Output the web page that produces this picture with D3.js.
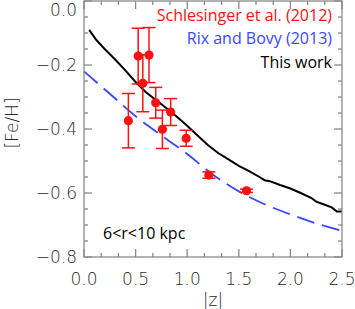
<!DOCTYPE html>
<html><head><meta charset="utf-8">
<script src="https://cdn.jsdelivr.net/npm/d3@7"></script>
<style>body{margin:0;background:#fff}svg{display:block}</style>
</head><body>
<script>
// "This work" model line
const workZ   = [0.05,0.12,0.2,0.3,0.4,0.5,0.6,0.7,0.8,0.9,1.0,1.1,1.2,1.3,1.4,1.5,1.6,1.7,1.75,1.8,1.9,2.0,2.1,2.2,2.25,2.3,2.4,2.45,2.5];
const workFeH = [-0.09,-0.122,-0.15,-0.182,-0.217,-0.253,-0.285,-0.31,-0.335,-0.362,-0.39,-0.42,-0.45,-0.475,-0.495,-0.515,-0.532,-0.55,-0.56,-0.563,-0.575,-0.586,-0.6,-0.615,-0.627,-0.633,-0.645,-0.658,-0.658];
// Rix and Bovy (2013)
const rixZ   = [0,0.25,0.5,0.75,1.0,1.25,1.5,1.75,2.0,2.25,2.5];
const rixFeH = [-0.22,-0.29,-0.36,-0.42,-0.478,-0.543,-0.595,-0.635,-0.667,-0.695,-0.718];
// Schlesinger et al. (2012)
const schZ   = [0.43,0.525,0.57,0.63,0.695,0.76,0.84,0.99,1.21,1.575];
const schFeH = [-0.374,-0.172,-0.257,-0.169,-0.318,-0.401,-0.347,-0.429,-0.544,-0.593];
const schErr = [0.085,0.087,0.089,0.086,0.048,0.06,0.042,0.025,0.01,0.005];
const xTicks = [0.0,0.5,1.0,1.5,2.0,2.5];
const yTicks = [0.0,-0.2,-0.4,-0.6,-0.8];
const legendLabels = ["Schlesinger et al. (2012)","Rix and Bovy (2013)","This work"];
const regionLabel = "6<r<10 kpc";

const W=355,H=309;
const L=84,R=342,T=1,B=257;
const svg=d3.select("body").append("svg").attr("width",W).attr("height",H);
const x=d3.scaleLinear().domain([0,2.5]).range([L,R]);
const y=d3.scaleLinear().domain([-0.8,0]).range([B,T]);
const axisCol="#8a8a8a";
const tickFont="'DejaVu Sans', sans-serif";
const textFont="'Open Sans', 'Noto Sans', sans-serif";

// data
const line=d3.line().x(d=>x(d[0])).y(d=>y(d[1]));
svg.append("path").datum(rixZ.map((z,i)=>[z,rixFeH[i]])).attr("d",line.curve(d3.curveMonotoneX))
  .attr("fill","none").attr("stroke","#3a47ff").attr("stroke-width",1.8).attr("stroke-dasharray","18,8");
svg.append("path").datum(workZ.map((z,i)=>[z,workFeH[i]])).attr("d",d3.line().x(d=>x(d[0])).y(d=>y(d[1])))
  .attr("fill","none").attr("stroke","#000").attr("stroke-width",2);

const red="#ff1010";
const g=svg.append("g");
schZ.forEach((z,i)=>{
  const cx=x(z), y1=y(schFeH[i]+schErr[i]), y2=y(schFeH[i]-schErr[i]);
  g.append("line").attr("x1",cx).attr("x2",cx).attr("y1",y1).attr("y2",y2).attr("stroke",red).attr("stroke-width",1.5);
  [y1,y2].forEach(yy=>g.append("line").attr("x1",cx-6.5).attr("x2",cx+6.5).attr("y1",yy).attr("y2",yy).attr("stroke",red).attr("stroke-width",1.5));
  g.append("circle").attr("cx",cx).attr("cy",y(schFeH[i])).attr("r",4.6).attr("fill",red);
});

// axes (ticks inward)
const ax=svg.append("g").attr("stroke",axisCol).attr("stroke-width",1.3).attr("fill","none");
ax.append("rect").attr("x",L).attr("y",T).attr("width",R-L).attr("height",B-T);
const xMinor=d3.range(0,2.5+1e-9,0.5/3);
xMinor.forEach(v=>{
  const major=xTicks.some(t=>Math.abs(t-v)<1e-6);
  const len=major?8:4;
  ax.append("line").attr("x1",x(v)).attr("x2",x(v)).attr("y1",B).attr("y2",B-len);
  ax.append("line").attr("x1",x(v)).attr("x2",x(v)).attr("y1",T).attr("y2",T+len);
});
const yMinor=d3.range(-0.8,0+1e-9,0.05);
yMinor.forEach(v=>{
  const major=yTicks.some(t=>Math.abs(t-v)<1e-6);
  const len=major?8:4;
  ax.append("line").attr("y1",y(v)).attr("y2",y(v)).attr("x1",L).attr("x2",L+len);
  ax.append("line").attr("y1",y(v)).attr("y2",y(v)).attr("x1",R).attr("x2",R-len);
});

// tick labels
const tf=(sel)=>sel.attr("font-family",tickFont).attr("font-size",17).attr("font-weight",300).attr("fill","#2a2a2a");
xTicks.forEach(t=>tf(svg.append("text").attr("x",x(t)).attr("y",285).attr("text-anchor","middle")).text(d3.format(".1f")(t)));
yTicks.forEach(t=>tf(svg.append("text").attr("x",77).attr("y",Math.max(y(t)+6,16)).attr("text-anchor","end"))
  .text(d3.format(".1f")(t).replace("-","\u2212")));

tf(svg.append("text").attr("x",213).attr("y",306).attr("text-anchor","middle")).text("|z|");
tf(svg.append("text").attr("transform","translate(18,123) rotate(-90)").attr("text-anchor","middle")).text("[Fe/H]");

// legend text
const legCols=[red,"#3a47ff","#000"];
legendLabels.forEach((s,i)=>svg.append("text").attr("x",332).attr("y",21+i*23.3).attr("text-anchor","end")
  .attr("font-family",textFont).attr("font-size",16).attr("fill",legCols[i]).text(s));
svg.append("text").attr("x",103).attr("y",239).attr("font-family",textFont).attr("font-size",16).attr("fill","#000").text(regionLabel);
</script>
</body></html>
